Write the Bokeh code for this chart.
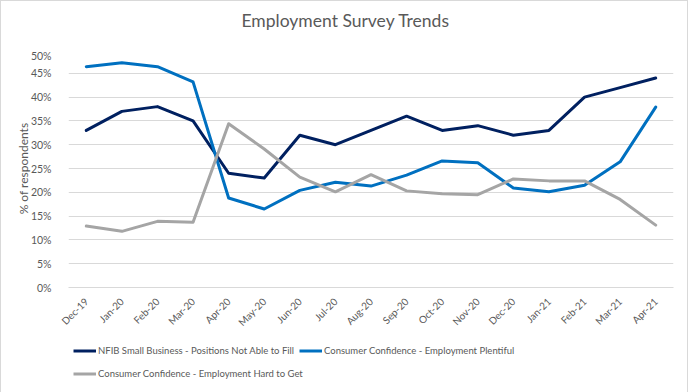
import math
from bokeh.plotting import figure
from bokeh.layouts import column
from bokeh.models import (ColumnDataSource, FactorRange, Range1d, FixedTicker,
                          PrintfTickFormatter, Legend, LegendItem)
from bokeh.embed import file_html
from bokeh.resources import INLINE

months = ["Dec-19", "Jan-20", "Feb-20", "Mar-20", "Apr-20", "May-20", "Jun-20",
          "Jul-20", "Aug-20", "Sep-20", "Oct-20", "Nov-20", "Dec-20", "Jan-21",
          "Feb-21", "Mar-21", "Apr-21"]
nfib = [33, 37, 38, 35, 24, 23, 32, 30, 33, 36, 33, 34, 32, 33, 40, 42, 44]
plentiful = [46.4, 47.2, 46.4, 43.2, 18.8, 16.5, 20.4, 22.1, 21.3, 23.6, 26.6,
             26.2, 20.9, 20.1, 21.5, 26.4, 37.9]
hard = [12.9, 11.8, 13.9, 13.7, 34.4, 29.1, 23.2, 20.1, 23.7, 20.3, 19.7,
        19.5, 22.8, 22.4, 22.4, 18.5, 13.1]
y_ticks = [0, 5, 10, 15, 20, 25, 30, 35, 40, 45, 50]

names = ["NFIB Small Business - Positions Not Able to Fill",
         "Consumer Confidence - Employment Plentiful",
         "Consumer Confidence - Employment Hard to Get"]
colors = ["#002060", "#0070C0", "#A5A5A5"]
cols = ["nfib", "plentiful", "hard"]

FONT = "Lato"
TXT = "#595959"
W = 686

source = ColumnDataSource(dict(month=months, nfib=nfib, plentiful=plentiful, hard=hard))

# --- title strip ---
p0 = figure(width=W, height=48, output_backend="svg", toolbar_location=None,
            x_axis_type=None, y_axis_type=None,
            min_border_left=0, min_border_right=0, min_border_top=0, min_border_bottom=0)
p0.outline_line_color = None
p0.grid.visible = False
p0.title.text = "Employment Survey Trends"
p0.title.text_font = FONT
p0.title.text_font_size = "17.5px"
p0.title.text_font_style = "normal"
p0.title.text_color = TXT
p0.title.align = "left"
p0.title.offset = 173
p0.title.standoff = 13

# --- main chart ---
p = figure(frame_width=605, frame_height=238, x_range=FactorRange(*months), y_range=Range1d(0, 50),
           output_backend="svg", toolbar_location=None,
           min_border_left=67, min_border_right=14, min_border_top=0, min_border_bottom=45)
p.outline_line_color = None
p.background_fill_color = "white"
p.border_fill_color = "white"

renderers = []
for col, c in zip(cols, colors):
    r = p.line("month", col, source=source, line_color=c, line_width=3,
               line_join="round", line_cap="round")
    renderers.append(r)

p.xgrid.grid_line_color = None
p.ygrid.grid_line_color = "#D9D9D9"
p.ygrid.grid_line_width = 1

p.yaxis.ticker = FixedTicker(ticks=y_ticks)
p.yaxis.formatter = PrintfTickFormatter(format="%d%%")
p.yaxis.axis_line_color = None
p.yaxis.major_tick_line_color = None
p.yaxis.minor_tick_line_color = None
p.yaxis.major_label_standoff = 11
p.yaxis.major_label_text_font = FONT
p.yaxis.major_label_text_font_size = "10.5px"
p.yaxis.major_label_text_color = TXT
p.yaxis.axis_label = "% of respondents"
p.yaxis.axis_label_text_font = FONT
p.yaxis.axis_label_text_font_size = "12px"
p.yaxis.axis_label_text_font_style = "normal"
p.yaxis.axis_label_text_color = TXT
p.yaxis.axis_label_standoff = -3

p.xaxis.axis_line_color = "#D9D9D9"
p.xaxis.major_tick_line_color = None
p.xaxis.minor_tick_line_color = None
p.xaxis.major_label_orientation = math.pi / 4
p.xaxis.major_label_standoff = 6
p.xaxis.major_label_text_font = FONT
p.xaxis.major_label_text_font_size = "10px"
p.xaxis.major_label_text_color = TXT

# --- legend strip ---
p2 = figure(width=W, height=59, x_range=FactorRange(*months), y_range=Range1d(1000, 1001),
            output_backend="svg", toolbar_location=None, x_axis_type=None, y_axis_type=None,
            min_border_left=0, min_border_right=0, min_border_top=0, min_border_bottom=0)
p2.outline_line_color = None
p2.grid.visible = False
lr = []
for col, c in zip(cols, colors):
    lr.append(p2.line("month", col, source=source, line_color=c, line_width=3))

def make_legend(items, loc):
    return Legend(items=items, location=loc, orientation="horizontal",
                  glyph_width=23, glyph_height=13, label_height=13, label_standoff=2,
                  padding=0, margin=0, spacing=5, border_line_color=None,
                  background_fill_alpha=0, label_text_font=FONT,
                  label_text_font_size="9.5px", label_text_color=TXT)

leg1 = make_legend([LegendItem(label=names[0], renderers=[lr[0]]),
                    LegendItem(label=names[1], renderers=[lr[1]])], (5, 37.5))
leg2 = make_legend([LegendItem(label=names[2], renderers=[lr[2]])], (5, 14.5))
p2.add_layout(leg1)
p2.add_layout(leg2)

layout = column(p0, p, p2, spacing=0, styles={"border": "1px solid #D9D9D9"})

open("out.html", "w").write(file_html(layout, INLINE))
